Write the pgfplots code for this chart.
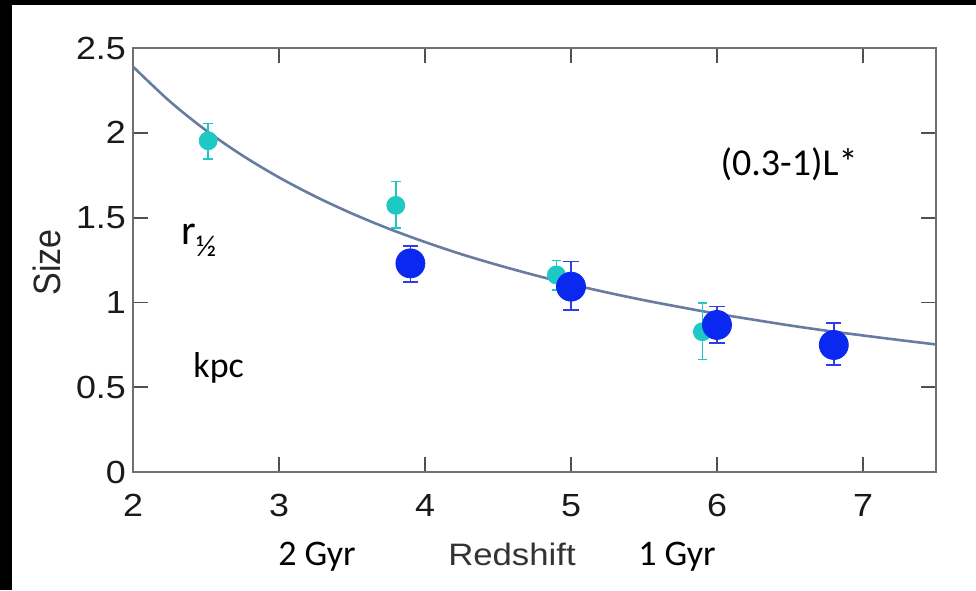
\documentclass[border=0pt]{standalone}
\usepackage{pgfplots}
\pgfplotsset{compat=1.18}
\usepackage{graphicx}
\usepackage{fontspec}
\setmainfont{Liberation Sans}
\newfontfamily\carlito{Carlito}
\definecolor{axgray}{RGB}{112,112,112}
\definecolor{tickgray}{RGB}{80,80,80}
\definecolor{cyanpt}{RGB}{30,200,195}
\definecolor{bluept}{RGB}{10,40,240}
\definecolor{blueerr}{RGB}{50,60,230}
\definecolor{curvecol}{RGB}{104,124,162}
\begin{document}
\begin{tikzpicture}
\fill[white] (0pt,0pt) rectangle (488pt,295pt);
\fill[black] (0pt,0pt) rectangle (6pt,295pt);
\fill[black] (0pt,292.5pt) rectangle (488pt,295pt);
\begin{axis}[
  at={(66.5pt,59pt)}, anchor=south west,
  scale only axis, width=401.5pt, height=212pt,
  xmin=2, xmax=7.5, ymin=0, ymax=2.5,
  xtick={2,3,4,5,6,7}, ytick={0,0.5,1,1.5,2,2.5},
  minor tick num=0,
  axis line style={draw=axgray, line width=1pt},
  tick style={draw=tickgray, line width=0.9pt},
  major tick length=7.5pt,
  tick align=inside,
  /pgf/number format/assume math mode=true,
  tick label style={font=\fontsize{16}{16}\selectfont, text=black!90, inner sep=0pt, xscale=1.12},
  xticklabel style={anchor=north, yshift=-11pt},
  yticklabel style={anchor=east, xshift=-3pt},
]
% fitted curve
\addplot[curvecol, line width=1.3pt, smooth] coordinates {
(2.00,2.390) (2.25,2.187) (2.50,2.014) (2.75,1.866) (3.00,1.737) (3.25,1.624)
(3.50,1.524) (3.75,1.435) (4.00,1.356) (4.25,1.284) (4.50,1.220) (4.75,1.161)
(5.00,1.107) (5.25,1.058) (5.50,1.013) (5.75,0.972) (6.00,0.933) (6.25,0.898)
(6.50,0.864) (6.75,0.833) (7.00,0.805) (7.25,0.778) (7.50,0.752)
};
% cyan points
\addplot[only marks, mark=*, mark size=4.5pt, color=cyanpt, mark options={fill=cyanpt, draw=cyanpt},
  error bars/.cd, y dir=both, y explicit,
  error bar style={line width=0.8pt, cyanpt},
  error mark options={rotate=90, mark size=2.4pt, line width=0.8pt, cyanpt}]
coordinates {
(2.515,1.953) += (0,0.103) -= (0,0.109)
(3.80,1.572) += (0,0.142) -= (0,0.135)
(4.90,1.162) += (0,0.084) -= (0,0.089)
(5.90,0.827) += (0,0.168) -= (0,0.163)
};
% blue points
\addplot[only marks, mark=*, mark size=7.25pt, color=bluept, mark options={fill=bluept, draw=bluept},
  error bars/.cd, y dir=both, y explicit,
  error bar style={line width=0.8pt, blueerr},
  error mark options={rotate=90, mark size=3.8pt, line width=0.8pt, blueerr}]
coordinates {
(3.90,1.230) += (0,0.104) -= (0,0.110)
(5.00,1.093) += (0,0.147) -= (0,0.138)
(6.00,0.867) += (0,0.108) -= (0,0.108)
(6.80,0.749) += (0,0.128) -= (0,0.118)
};
\end{axis}
% axis titles
\node[anchor=center, inner sep=0pt, text=black!85] at (23.3pt,163.75pt)
  {\scalebox{1.12}[1]{\rotatebox{90}{\fontsize{17}{17}\selectfont Size}}};
\node[anchor=base, inner sep=0pt, text=black!80, xscale=1.12] at (256pt,12.5pt)
  {\fontsize{15.5}{15.5}\selectfont Redshift};
% annotations
\node[anchor=base, inner sep=0pt] at (158.5pt,12.5pt) {\carlito\fontsize{18}{18}\selectfont 2 Gyr};
\node[anchor=base, inner sep=0pt] at (338.5pt,12.5pt) {\carlito\fontsize{18}{18}\selectfont 1 Gyr};
\node[anchor=base, inner sep=0pt] at (394.5pt,207pt) {\carlito\fontsize{19}{19}\selectfont (0.3-1)L*};
\node[anchor=base west, inner sep=0pt] at (90.5pt,172.5pt)
  {\carlito\fontsize{21}{21}\selectfont r\raisebox{-6pt}{\fontsize{15}{15}\selectfont ½}};
\node[anchor=base west, inner sep=0pt] at (96.5pt,106.5pt) {\carlito\fontsize{18}{18}\selectfont kpc};
\pgfresetboundingbox
\useasboundingbox (0pt,0pt) rectangle (488pt,295pt);
\end{tikzpicture}
\end{document}
